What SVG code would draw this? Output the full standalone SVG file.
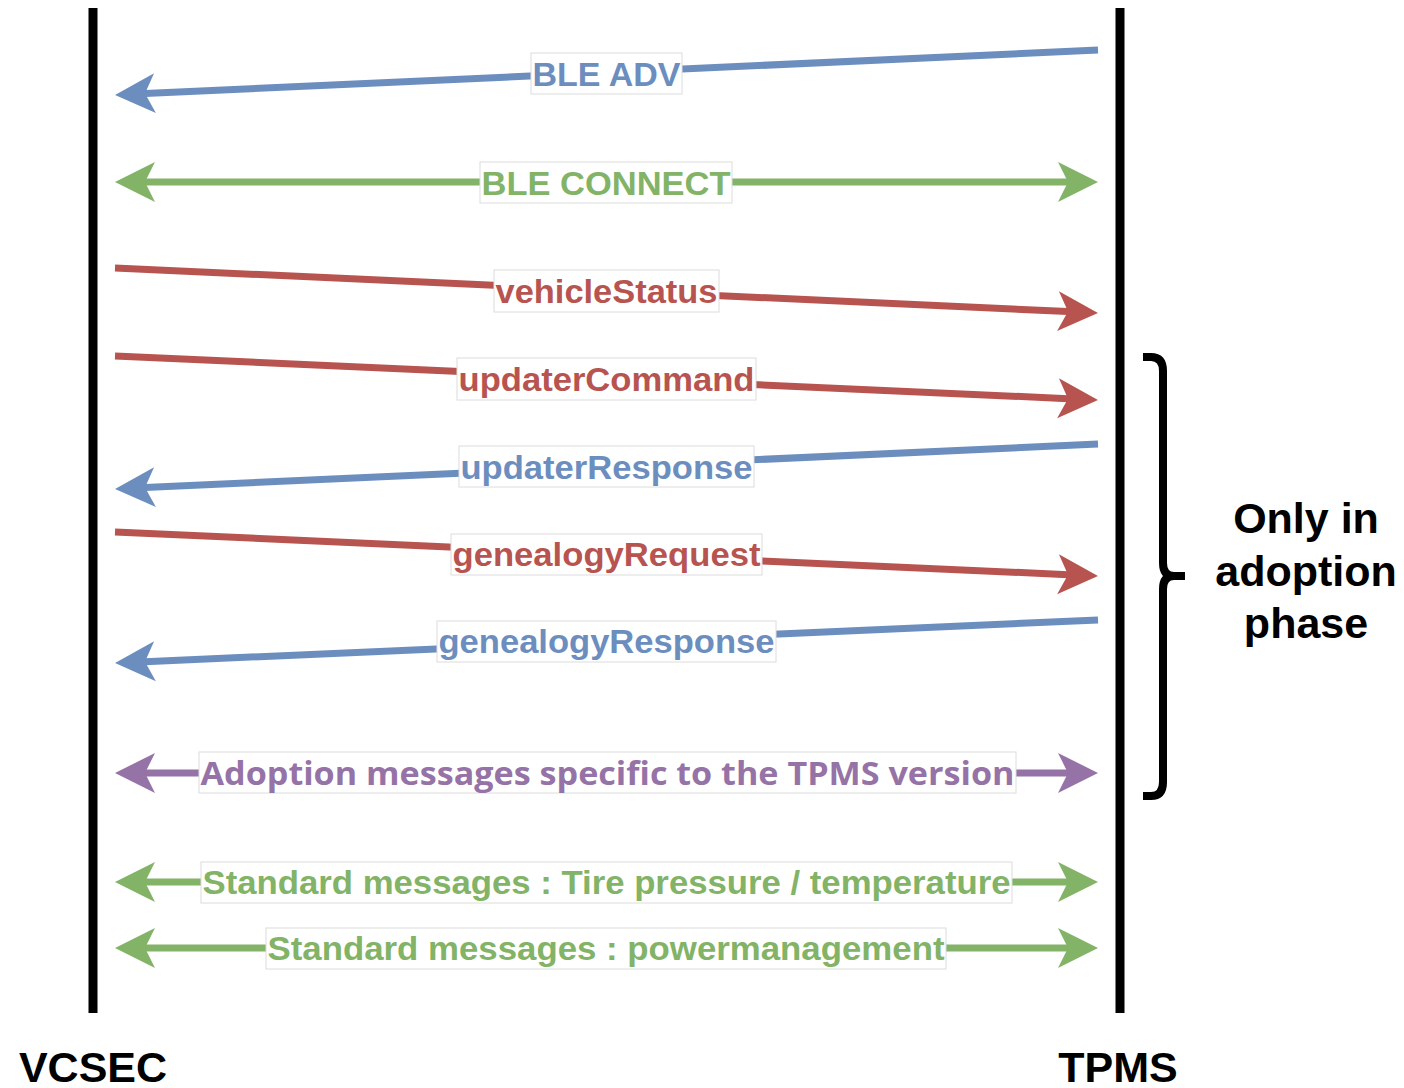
<svg xmlns="http://www.w3.org/2000/svg" width="1404" height="1088" viewBox="0 0 1404 1088">
  <style>
    .lifeline { stroke: #000; stroke-width: 9; fill: none; }
    .msg { fill: none; stroke-width: 7; }
    .blue { stroke: #6c8ebf; }
    .green { stroke: #82b366; }
    .red { stroke: #b85450; }
    .purple { stroke: #9673a6; }
    .lbl-box { fill: #fff; stroke: #dcdcdc; stroke-width: 1; }
    .lbl { font-family: "Liberation Sans", Arial, sans-serif; font-weight: bold; font-size: 34px; text-anchor: middle; }
    .lbl-os { font-family: "Open Sans", "Liberation Sans", sans-serif; font-weight: bold; font-size: 33px; text-anchor: middle; }
    .t-blue { fill: #6c8ebf; }
    .t-green { fill: #82b366; }
    .t-red { fill: #b85450; }
    .t-purple { fill: #9673a6; }
    .title { font-family: "Liberation Sans", Arial, sans-serif; font-weight: bold; font-size: 43px; fill: #000; text-anchor: middle; }
    .brace { fill: none; stroke: #000; stroke-width: 8; stroke-linejoin: round; }
  </style>
  <defs>
    <!-- open-notch arrowheads; origin sits at the notch so the line stops inside the head -->
    <marker id="ah-blue" markerUnits="userSpaceOnUse" markerWidth="1" markerHeight="1" refX="0" refY="0" orient="auto-start-reverse" overflow="visible">
      <path d="M30,0 L-10,-20 L0,0 L-10,20 Z" fill="#6c8ebf"/>
    </marker>
    <marker id="ah-green" markerUnits="userSpaceOnUse" markerWidth="1" markerHeight="1" refX="0" refY="0" orient="auto-start-reverse" overflow="visible">
      <path d="M30,0 L-10,-20 L0,0 L-10,20 Z" fill="#82b366"/>
    </marker>
    <marker id="ah-red" markerUnits="userSpaceOnUse" markerWidth="1" markerHeight="1" refX="0" refY="0" orient="auto-start-reverse" overflow="visible">
      <path d="M30,0 L-10,-20 L0,0 L-10,20 Z" fill="#b85450"/>
    </marker>
    <marker id="ah-purple" markerUnits="userSpaceOnUse" markerWidth="1" markerHeight="1" refX="0" refY="0" orient="auto-start-reverse" overflow="visible">
      <path d="M30,0 L-10,-20 L0,0 L-10,20 Z" fill="#9673a6"/>
    </marker>
  </defs>

  <rect width="1404" height="1088" fill="#fff"/>

  <!-- participants -->
  <g id="vcsec">
    <line class="lifeline" x1="93" y1="8" x2="93" y2="1013"/>
    <text class="title" x="93" y="1082">VCSEC</text>
  </g>
  <g id="tpms">
    <line class="lifeline" x1="1120" y1="8" x2="1120" y2="1013"/>
    <text class="title" x="1118" y="1082">TPMS</text>
  </g>

  <!-- messages -->
  <g id="connectors">
    <line class="msg blue" x1="1098" y1="50" x2="145" y2="93.6" marker-end="url(#ah-blue)"/>
    <line class="msg green" x1="145" y1="182" x2="1068" y2="182" marker-start="url(#ah-green)" marker-end="url(#ah-green)"/>
    <line class="msg red" x1="115" y1="268" x2="1068" y2="311.6" marker-end="url(#ah-red)"/>
    <line class="msg red" x1="115" y1="356" x2="1068" y2="398.7" marker-end="url(#ah-red)"/>
    <line class="msg blue" x1="1098" y1="444" x2="145" y2="487.6" marker-end="url(#ah-blue)"/>
    <line class="msg red" x1="115" y1="532" x2="1068" y2="574.7" marker-end="url(#ah-red)"/>
    <line class="msg blue" x1="1098" y1="620" x2="145" y2="661.7" marker-end="url(#ah-blue)"/>
    <line class="msg purple" x1="145" y1="773" x2="1068" y2="773" marker-start="url(#ah-purple)" marker-end="url(#ah-purple)"/>
    <line class="msg green" x1="145" y1="882" x2="1068" y2="882" marker-start="url(#ah-green)" marker-end="url(#ah-green)"/>
    <line class="msg green" x1="145" y1="948" x2="1068" y2="948" marker-start="url(#ah-green)" marker-end="url(#ah-green)"/>
  </g>

  <!-- message labels -->
  <g id="lbl-ble-adv">
    <rect class="lbl-box" x="531" y="53" width="151" height="41"/>
    <text class="lbl t-blue" x="606.5" y="86" textLength="148" lengthAdjust="spacingAndGlyphs">BLE ADV</text>
  </g>
  <g id="lbl-ble-connect">
    <rect class="lbl-box" x="480" y="162" width="252" height="41"/>
    <text class="lbl t-green" x="606" y="195" textLength="249" lengthAdjust="spacingAndGlyphs">BLE CONNECT</text>
  </g>
  <g id="lbl-vehicle-status">
    <rect class="lbl-box" x="494" y="270" width="225" height="42"/>
    <text class="lbl t-red" x="606.5" y="303" textLength="222" lengthAdjust="spacingAndGlyphs">vehicleStatus</text>
  </g>
  <g id="lbl-updater-command">
    <rect class="lbl-box" x="457" y="358" width="299" height="42"/>
    <text class="lbl t-red" x="606.5" y="391" textLength="296" lengthAdjust="spacingAndGlyphs">updaterCommand</text>
  </g>
  <g id="lbl-updater-response">
    <rect class="lbl-box" x="459" y="446" width="295" height="41"/>
    <text class="lbl t-blue" x="606.5" y="479" textLength="292" lengthAdjust="spacingAndGlyphs">updaterResponse</text>
  </g>
  <g id="lbl-genealogy-request">
    <rect class="lbl-box" x="451" y="534" width="311" height="41"/>
    <text class="lbl t-red" x="606.5" y="566" textLength="308" lengthAdjust="spacingAndGlyphs">genealogyRequest</text>
  </g>
  <g id="lbl-genealogy-response">
    <rect class="lbl-box" x="437" y="621" width="339" height="41"/>
    <text class="lbl t-blue" x="606.5" y="653" textLength="336" lengthAdjust="spacingAndGlyphs">genealogyResponse</text>
  </g>
  <g id="lbl-adoption">
    <rect class="lbl-box" x="199" y="752" width="817" height="41"/>
    <text class="lbl-os t-purple" x="607.5" y="785" textLength="814" lengthAdjust="spacingAndGlyphs">Adoption messages specific to the TPMS version</text>
  </g>
  <g id="lbl-std-tire">
    <rect class="lbl-box" x="201" y="862" width="811" height="41"/>
    <text class="lbl t-green" x="606.5" y="894" textLength="808" lengthAdjust="spacingAndGlyphs">Standard messages : Tire pressure / temperature</text>
  </g>
  <g id="lbl-std-power">
    <rect class="lbl-box" x="266" y="928" width="680" height="41"/>
    <text class="lbl t-green" x="606" y="960" textLength="677" lengthAdjust="spacingAndGlyphs">Standard messages : powermanagement</text>
  </g>

  <!-- adoption-phase bracket -->
  <g id="adoption-brace">
    <path class="brace" d="M1143,357 H1151 Q1163,357 1163,371 V563 Q1163,576 1174,576 H1185 M1174,576 Q1163,576 1163,589 V782 Q1163,796 1151,796 H1143"/>
    <text class="title" x="1306" y="533">Only in</text>
    <text class="title" x="1306" y="586">adoption</text>
    <text class="title" x="1306" y="638">phase</text>
  </g>
</svg>
